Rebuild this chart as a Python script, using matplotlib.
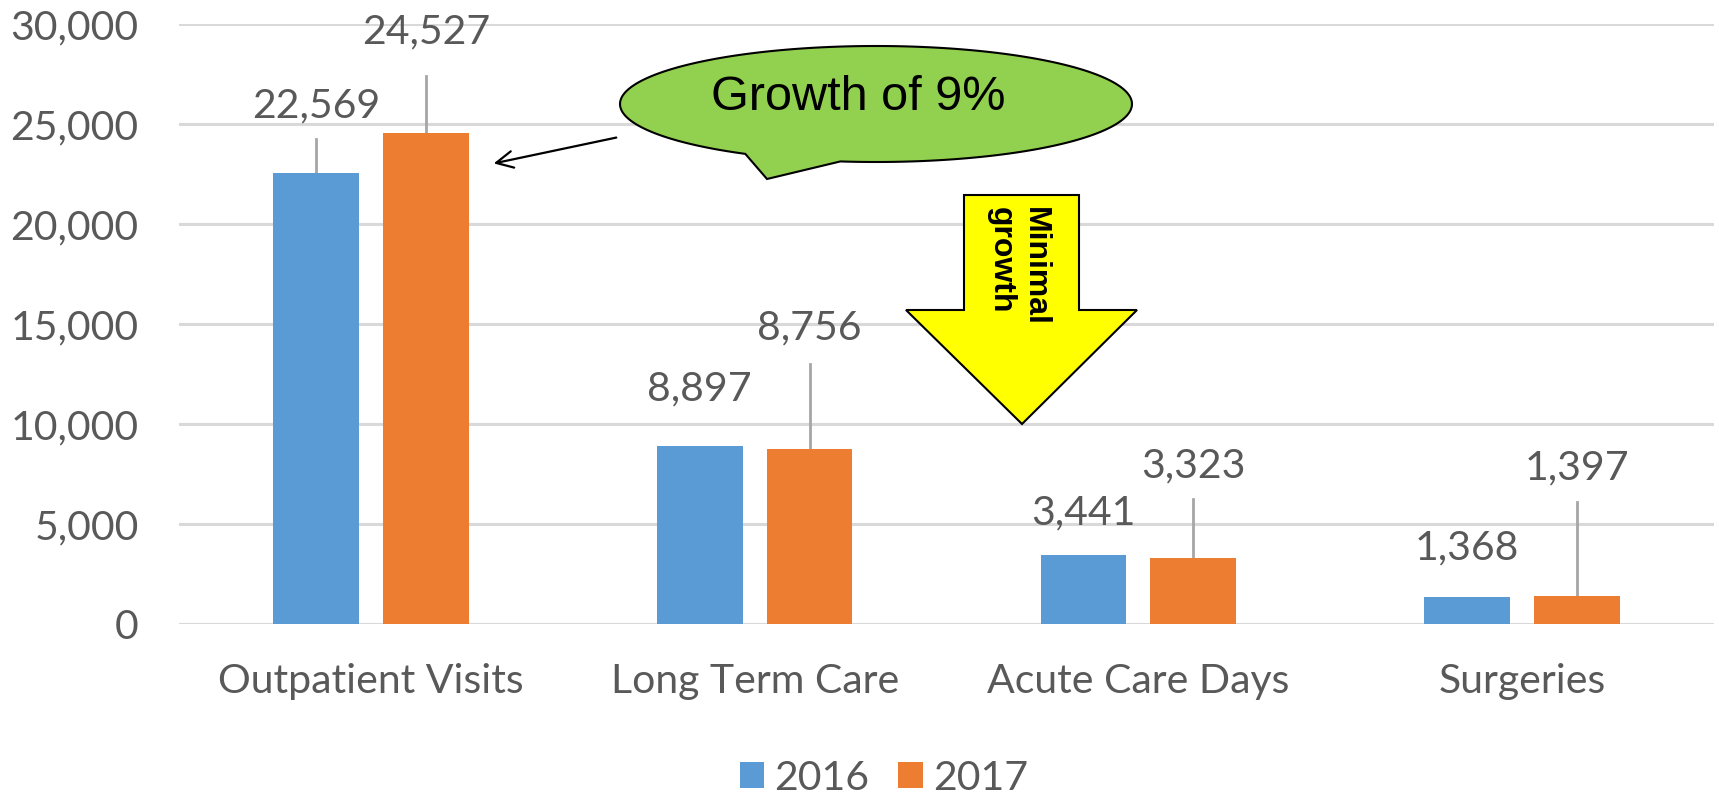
import numpy as np
import matplotlib.pyplot as plt
from matplotlib.patches import Polygon, FancyArrowPatch

# data
categories = ["Outpatient Visits", "Long Term Care", "Acute Care Days", "Surgeries"]
years = ["2016", "2017"]
values_2016 = [22569, 8897, 3441, 1368]
values_2017 = [24527, 8756, 3323, 1397]

# where the excel data labels were dragged to (label centre, leader top)
label_y_2016 = [25900, 11750, 5550, 3800]
label_y_2017 = [29600, 14800, 7900, 7800]
leader_top_2016 = [24250, None, None, None]
leader_top_2017 = [27400, 13000, 6250, 6100]

blue = "#5B9BD5"
orange = "#ED7D31"
gray_txt = "#595959"
grid_c = "#D9D9D9"

W, H = 1719, 798
plt.rcParams['font.family'] = ['Lato', 'DejaVu Sans']

fig = plt.figure(figsize=(W / 100, H / 100), dpi=100)
ax = fig.add_axes([179 / W, 1 - 624 / H, (1714 - 179) / W, (624 - 24) / H])


def px(x, y):
    # reference pixel -> figure fraction
    return x / W, 1 - y / H


x = np.arange(len(categories))
bw = 0.223
off = 0.143
ax.bar(x - off, values_2016, bw, color=blue, label=years[0], zorder=3)
ax.bar(x + off, values_2017, bw, color=orange, label=years[1], zorder=3)

fs = 29.5
for xs, vals, ly, lt in [(x - off, values_2016, label_y_2016, leader_top_2016),
                         (x + off, values_2017, label_y_2017, leader_top_2017)]:
    for xi, v, yl, top in zip(xs, vals, ly, lt):
        ax.text(xi, yl, f"{v:,}", ha="center", va="center", fontsize=fs, color=gray_txt)
        if top is not None:
            ax.plot([xi, xi], [v, top], color="#A6A6A6", lw=2, zorder=2)

ax.set_xlim(-0.5, len(categories) - 0.5)
ax.set_ylim(0, 30000)
ax.set_yticks(np.arange(0, 30001, 5000))
ax.set_yticklabels([f"{t:,}" for t in range(0, 30001, 5000)])
ax.set_xticks(x)
ax.set_xticklabels(categories)
ax.tick_params(axis="both", length=0, labelsize=fs, labelcolor=gray_txt)
ax.tick_params(axis="y", pad=29)
ax.tick_params(axis="x", pad=28)
ax.grid(axis="y", color=grid_c, lw=2.2, zorder=0)
for s in ax.spines.values():
    s.set_visible(False)

# legend
fig.legend(loc="center", bbox_to_anchor=px(884, 778), ncol=2, frameon=False,
           fontsize=fs, labelcolor=gray_txt, handlelength=0.6, handleheight=0.6,
           handletextpad=0.25, columnspacing=0.7)

# speech bubble
cx, cy, a, b = 876, 104, 256, 58
th = np.radians(np.linspace(120.7, 458, 200))
pts = [px(cx + a * np.cos(t), cy + b * np.sin(t)) for t in th]
pts.append(px(767, 179))
fig.patches.append(Polygon(pts, closed=True, transform=fig.transFigure,
                           facecolor="#92D050", edgecolor="black", lw=1.5, zorder=5))
fig.text(*px(858, 98), "Growth of 9%", fontsize=35, family="Liberation Sans",
         ha="center", va="center", color="black", zorder=6)
fig.patches.append(FancyArrowPatch(
    px(619, 137), px(491, 164), transform=fig.transFigure, arrowstyle="->",
    mutation_scale=30, lw=1.6, color="black", zorder=5))

# yellow down arrow
arrow = [(964, 195), (1079, 195), (1079, 310), (1137, 310), (1022, 424), (906, 310), (964, 310)]
fig.patches.append(Polygon([px(*p) for p in arrow], closed=True, transform=fig.transFigure,
                           facecolor="#FFFF00", edgecolor="black", lw=1.5, zorder=5))
fig.text(*px(1018, 207), "Minimal\ngrowth", rotation=-90, fontsize=23, fontweight="bold",
         family="Liberation Sans", ha="center", va="top", multialignment="left",
         rotation_mode="default", color="black", zorder=6)

fig.savefig("out.png", dpi=100)
